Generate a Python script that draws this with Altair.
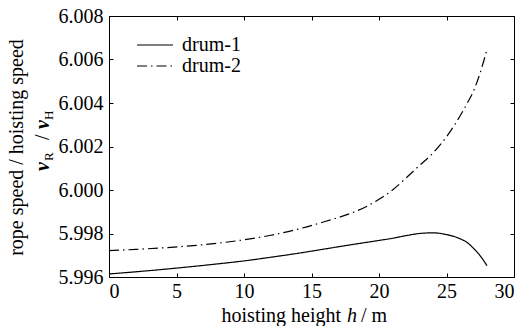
import altair as alt
import pandas as pd

# ---- data ----
h1 = [0, 2, 4, 6, 8, 10, 12, 14, 16, 18, 20, 21, 22, 23, 24, 25, 26, 26.5, 27, 27.5, 28]
v1 = [5.99614, 5.99624, 5.99635, 5.99647, 5.99660, 5.99674, 5.99691, 5.99709, 5.99729,
      5.99749, 5.99768, 5.99778, 5.99790, 5.99800, 5.99803, 5.99795, 5.99776, 5.99760,
      5.99732, 5.99697, 5.99652]
h2 = [0, 2, 4, 6, 8, 10, 12, 14, 16, 18, 19, 20, 21, 22, 23, 24, 25, 26, 26.5, 27, 27.5, 28]
v2 = [5.99721, 5.99727, 5.99734, 5.99743, 5.99755, 5.99771, 5.99792, 5.99820, 5.99855,
      5.99895, 5.99922, 5.99957, 6.00000, 6.00055, 6.00113, 6.00170, 6.00245, 6.00340,
      6.00395, 6.00455, 6.00540, 6.00646]
series_names = ["drum-1", "drum-2"]
x_ticks = [0, 5, 10, 15, 20, 25, 30]
y_ticks = [5.996, 5.998, 6.000, 6.002, 6.004, 6.006, 6.008]

df = pd.concat([
    pd.DataFrame({"h": h1, "v": v1, "series": series_names[0]}),
    pd.DataFrame({"h": h2, "v": v2, "series": series_names[1]}),
])

FONT = "Liberation Serif"
W, H = 405, 261
TICK = {"expr": "-4"}

xs = alt.Scale(domain=[0, 30], nice=False, zero=False)
ys = alt.Scale(domain=[5.996, 6.008], nice=False, zero=False)
dash = alt.Scale(domain=series_names, range=[[1, 0], [10, 4, 1.5, 4]])

lines = alt.Chart(df).mark_line(color="black", strokeWidth=1.2, interpolate="monotone").encode(
    x=alt.X("h:Q", scale=xs,
            axis=alt.Axis(values=x_ticks, title=None, tickSize=TICK, labelPadding=8,
                          labelFont=FONT, labelFontSize=20, labelColor="black",
                          domainColor="black", tickColor="black", grid=False)),
    y=alt.Y("v:Q", scale=ys,
            axis=alt.Axis(values=y_ticks, format=".3f", tickSize=TICK, labelPadding=10,
                          labelFont=FONT, labelFontSize=20, labelColor="black",
                          domainColor="black", tickColor="black", grid=False,
                          title="rope speed / hoisting speed", titleFont=FONT,
                          titleFontSize=20, titleFontWeight="normal", titleColor="black",
                          titleAngle=270, titleX=-87, titleY=131, titleAlign="center",
                          titleBaseline="alphabetic")),
    strokeDash=alt.StrokeDash("series:N", scale=dash, legend=None),
)

mirror = alt.Chart(df).mark_line(opacity=0).encode(
    x=alt.X("h:Q", scale=xs,
            axis=alt.Axis(orient="top", values=x_ticks, title=None, labels=False,
                          tickSize=TICK, domainColor="black", tickColor="black", grid=False)),
    y=alt.Y("v:Q", scale=ys,
            axis=alt.Axis(orient="right", values=y_ticks, title=None, labels=False,
                          tickSize=TICK, domainColor="black", tickColor="black", grid=False)),
)

def txt(s, x, y, size, style="normal", weight="normal", align="left", angle=0):
    return alt.Chart(pd.DataFrame({"t": [s]})).mark_text(
        font=FONT, fontSize=size, fontStyle=style, fontWeight=weight, color="black",
        align=align, baseline="alphabetic", angle=angle,
    ).encode(text="t:N", x=alt.value(x), y=alt.value(y))

legend_layers = []
for i, name in enumerate(series_names):
    ly = 29 + 21 * i
    legend_layers.append(
        alt.Chart(pd.DataFrame({"series": [name]})).mark_rule(color="black", strokeWidth=1.2).encode(
            x=alt.value(28), x2=alt.value(64), y=alt.value(ly),
            strokeDash=alt.StrokeDash("series:N", scale=dash, legend=None))
    )
    legend_layers.append(
        alt.Chart(pd.DataFrame({"series": [name]})).mark_text(
            font=FONT, fontSize=20, color="black", align="left", baseline="middle"
        ).encode(text="series:N", x=alt.value(73), y=alt.value(ly))
    )

x_title = [
    txt("hoisting height", 232, 306, 20, align="right"),
    txt("h", 243, 306, 20, style="italic", align="center"),
    txt("/ m", 252, 306, 20, align="left"),
]
y_title2 = [
    txt("v", -60, 155, 20, style="italic", weight="bold", angle=270),
    txt("R", -56, 145, 13, angle=270),
    txt("/", -60, 124, 20, angle=270),
    txt("v", -60, 113, 20, style="italic", weight="bold", angle=270),
    txt("H", -56, 104, 13, angle=270),
]

chart = alt.layer(lines, mirror, *legend_layers, *x_title, *y_title2).resolve_axis(
    x="independent", y="independent"
).properties(
    width=W, height=H,
    autosize=alt.AutoSizeParams(type="none"),
    padding={"left": 109, "top": 16, "right": 7, "bottom": 49},
).configure_view(stroke="black", strokeWidth=1).configure(background="white")

chart.save("out.html", embed_options={"renderer": "svg", "actions": False})
